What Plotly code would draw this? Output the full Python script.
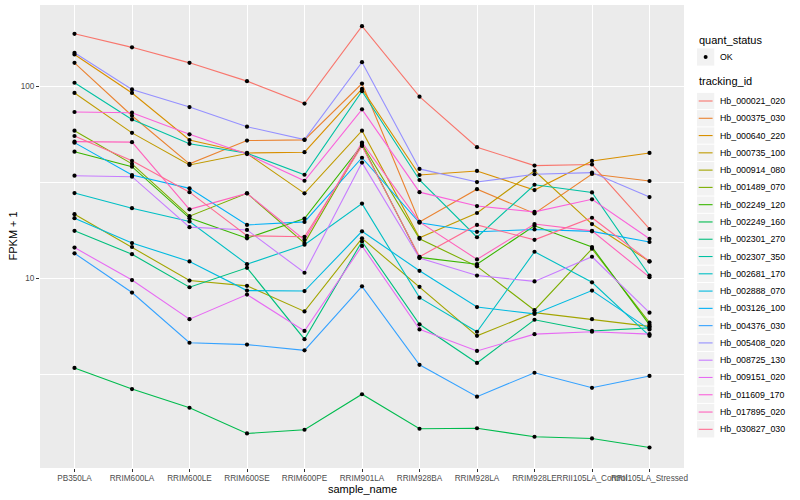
import plotly.graph_objects as go

# ---------------- data ----------------
sample_names = ["PB350LA", "RRIM600LA", "RRIM600LE", "RRIM600SE", "RRIM600PE",
                "RRIM901LA", "RRIM928BA", "RRIM928LA", "RRIM928LE",
                "RRII105LA_Control", "RRII105LA_Stressed"]

tracking_ids = ["Hb_000021_020", "Hb_000375_030", "Hb_000640_220", "Hb_000735_100",
                "Hb_000914_080", "Hb_001489_070", "Hb_002249_120", "Hb_002249_160",
                "Hb_002301_270", "Hb_002307_350", "Hb_002681_170", "Hb_002888_070",
                "Hb_003126_100", "Hb_004376_030", "Hb_005408_020", "Hb_008725_130",
                "Hb_009151_020", "Hb_011609_170", "Hb_017895_020", "Hb_030827_030"]

# FPKM + 1 per sample
Hb_000021_020 = [187, 159, 132, 106, 81, 205, 88, 48, 38.5, 39, 18]
Hb_000375_030 = [132, 70, 39.3, 52, 52.4, 103, 19.6, 29, 21.7, 34.8, 32]
Hb_000640_220 = [146, 92, 52.3, 44.8, 45.2, 96.5, 34.4, 36.1, 28.7, 40.7, 44.8]
Hb_000735_100 = [92, 57, 38.8, 44.5, 27.6, 58.5, 16.2, 21.8, 36.2, 19.1, 12.2]
Hb_000914_080 = [21.5, 14.5, 9.7, 9.1, 6.7, 16.1, 9.0, 5.0, 6.6, 6.1, 5.6]
Hb_001489_070 = [58.5, 39.3, 21, 27.6, 15.2, 49.9, 16, 11.5, 6.8, 14.2, 5.85]
Hb_002249_120 = [45.5, 38, 20.5, 16.1, 20.4, 49.3, 12.8, 11.8, 18.7, 14.5, 5.7]
Hb_002249_160 = [3.4, 2.64, 2.11, 1.55, 1.62, 2.48, 1.64, 1.65, 1.49, 1.46, 1.31]
Hb_002301_270 = [17.6, 13.3, 8.95, 11.3, 4.8, 15.5, 5.74, 3.61, 6.06, 5.3, 5.5]
Hb_002307_350 = [104, 67, 50, 44.6, 34.5, 94, 32.4, 16.3, 30.6, 27.9, 10.3]
Hb_002681_170 = [27.7, 23.1, 19.7, 11.8, 14.9, 24.4, 7.9, 5.25, 13.7, 9.5, 5.0]
Hb_002888_070 = [20.5, 15.2, 12.2, 8.6, 8.55, 17.5, 10.9, 7.06, 6.5, 8.6, 5.4]
Hb_003126_100 = [50.7, 34.4, 29.3, 18.9, 19.6, 42.3, 19.4, 17.4, 17.9, 17.5, 15.4]
Hb_004376_030 = [13.45, 8.4, 4.6, 4.5, 4.2, 9.05, 3.53, 2.41, 3.21, 2.68, 3.09]
Hb_005408_020 = [149, 96, 77.7, 61.4, 52.6, 133, 37, 31.6, 34.7, 35.4, 26.4]
Hb_008725_130 = [34.1, 33.7, 18.4, 17.8, 10.65, 39.9, 12.7, 10.3, 9.6, 12.9, 6.6]
Hb_009151_020 = [14.4, 9.76, 6.1, 8.2, 5.3, 14.7, 5.4, 4.17, 5.1, 5.25, 5.1]
Hb_011609_170 = [73.2, 72.6, 56, 44.2, 32.1, 75.6, 28, 23.7, 22.1, 25.7, 16]
Hb_017895_020 = [51.3, 51, 22.8, 27.6, 15.8, 50.8, 19.6, 12.5, 19.1, 17.6, 10.1]
Hb_030827_030 = [54.9, 40.8, 28, 16.6, 16.4, 48.7, 12.9, 18.9, 15.8, 20.6, 12.2]

series_values = [Hb_000021_020, Hb_000375_030, Hb_000640_220, Hb_000735_100,
                 Hb_000914_080, Hb_001489_070, Hb_002249_120, Hb_002249_160,
                 Hb_002301_270, Hb_002307_350, Hb_002681_170, Hb_002888_070,
                 Hb_003126_100, Hb_004376_030, Hb_005408_020, Hb_008725_130,
                 Hb_009151_020, Hb_011609_170, Hb_017895_020, Hb_030827_030]

quant_status = "OK"
y_ticks = [10, 100]
y_tick_labels = ["10", "100"]
y_minor = [3.1623, 31.623]

# ---------------- style ----------------
palette = ["#F8766D", "#EA8331", "#D89000", "#C09B00", "#A3A500", "#7CAE00",
           "#39B600", "#00BB4E", "#00BF7D", "#00C1A3", "#00BFC4", "#00BAE0",
           "#00B0F6", "#35A2FF", "#9590FF", "#C77CFF", "#E76BF3", "#FA62DB",
           "#FF62BC", "#FF6C91"]
FONT = "Liberation Sans, Arial, Helvetica, sans-serif"
W, H = 800, 500
ML, MR, MT, MB = 40, 116, 5, 32
PW, PH = W - ML - MR, H - MT - MB


def px_x(px):
    return (px - ML) / PW


def px_y(py):
    return 1 - (py - MT) / PH


fig = go.Figure()

for name, vals, col in zip(tracking_ids, series_values, palette):
    fig.add_trace(go.Scatter(
        x=sample_names, y=vals, mode="lines", name=name,
        line=dict(color=col, width=1.1), showlegend=False, hoverinfo="skip"))

for name, vals in zip(tracking_ids, series_values):
    fig.add_trace(go.Scatter(
        x=sample_names, y=vals, mode="markers", name=name,
        customdata=[quant_status] * len(vals),
        hovertemplate="%{x}<br>%{y}<br>%{customdata}<extra>" + name + "</extra>",
        marker=dict(color="black", size=4.2, symbol="circle"), showlegend=False))

# ---------------- legend (ggplot style keys) ----------------
shapes, annotations = [], []
KEY_X0, KEY = 697, 17.28
TEXT_X = 718

annotations.append(dict(text="quant_status", x=px_x(KEY_X0), y=px_y(40), xref="paper",
                        yref="paper", xanchor="left", yanchor="middle", showarrow=False,
                        font=dict(family=FONT, size=11, color="black")))
ok_y = 57
shapes.append(dict(type="rect", xref="paper", yref="paper",
                   x0=px_x(KEY_X0), x1=px_x(KEY_X0 + KEY),
                   y0=px_y(ok_y - KEY / 2), y1=px_y(ok_y + KEY / 2),
                   fillcolor="#F2F2F2", line=dict(width=0), layer="below"))
shapes.append(dict(type="circle", xref="paper", yref="paper",
                   x0=px_x(KEY_X0 + KEY / 2 - 2), x1=px_x(KEY_X0 + KEY / 2 + 2),
                   y0=px_y(ok_y - 2), y1=px_y(ok_y + 2),
                   fillcolor="black", line=dict(width=0)))
annotations.append(dict(text=quant_status, x=px_x(TEXT_X), y=px_y(ok_y), xref="paper",
                        yref="paper", xanchor="left", yanchor="middle", showarrow=False,
                        font=dict(family=FONT, size=8.8, color="black")))

annotations.append(dict(text="tracking_id", x=px_x(KEY_X0), y=px_y(81), xref="paper",
                        yref="paper", xanchor="left", yanchor="middle", showarrow=False,
                        font=dict(family=FONT, size=11, color="black")))
for i, (name, col) in enumerate(zip(tracking_ids, palette)):
    cy = 101 + i * KEY
    shapes.append(dict(type="rect", xref="paper", yref="paper",
                       x0=px_x(KEY_X0), x1=px_x(KEY_X0 + KEY),
                       y0=px_y(cy - KEY / 2 + 0.5), y1=px_y(cy + KEY / 2 - 0.5),
                       fillcolor="#F2F2F2", line=dict(width=0), layer="below"))
    shapes.append(dict(type="line", xref="paper", yref="paper",
                       x0=px_x(KEY_X0 + 1.7), x1=px_x(KEY_X0 + KEY - 1.7),
                       y0=px_y(cy), y1=px_y(cy), line=dict(color=col, width=1.1)))
    annotations.append(dict(text=name, x=px_x(TEXT_X), y=px_y(cy), xref="paper",
                            yref="paper", xanchor="left", yanchor="middle", showarrow=False,
                            font=dict(family=FONT, size=8.8, color="black")))

# axis titles
annotations.append(dict(text="sample_name", x=0.5, y=px_y(489), xref="paper", yref="paper",
                        xanchor="center", yanchor="middle", showarrow=False,
                        font=dict(family=FONT, size=11, color="black")))
annotations.append(dict(text="FPKM + 1", x=px_x(12), y=0.5, xref="paper", yref="paper",
                        xanchor="center", yanchor="middle", showarrow=False, textangle=-90,
                        font=dict(family=FONT, size=11, color="black")))

fig.update_layout(
    width=W, height=H,
    paper_bgcolor="white", plot_bgcolor="#EBEBEB",
    margin=dict(l=ML, r=MR, t=MT, b=MB),
    font=dict(family=FONT, size=9, color="#4D4D4D"),
    xaxis=dict(
        type="category", range=[-0.6, 10.6], automargin=False, tickangle=0,
        showgrid=True, gridcolor="white", gridwidth=1.1,
        zeroline=False, showline=False,
        ticks="outside", ticklen=2.5, tickcolor="#333333", tickwidth=1,
        tickfont=dict(family=FONT, size=8.2, color="#4D4D4D"),
    ),
    yaxis=dict(
        type="log", range=[0.0104, 2.4219], automargin=False,
        tickmode="array", tickvals=y_ticks, ticktext=y_tick_labels,
        showgrid=True, gridcolor="white", gridwidth=1.1,
        zeroline=False, showline=False,
        ticks="outside", ticklen=3, tickcolor="#333333", tickwidth=1,
        tickfont=dict(family=FONT, size=8.2, color="#4D4D4D"),
        minor=dict(tickmode="array", tickvals=y_minor, showgrid=True,
                   gridcolor="white", gridwidth=0.5, ticklen=0),
    ),
    shapes=shapes, annotations=annotations,
    showlegend=False,
)

fig.write_html("out.html",
               config={"displayModeBar": False},
               post_script="document.body.style.margin='0';"
                           "document.body.style.overflow='hidden';")
